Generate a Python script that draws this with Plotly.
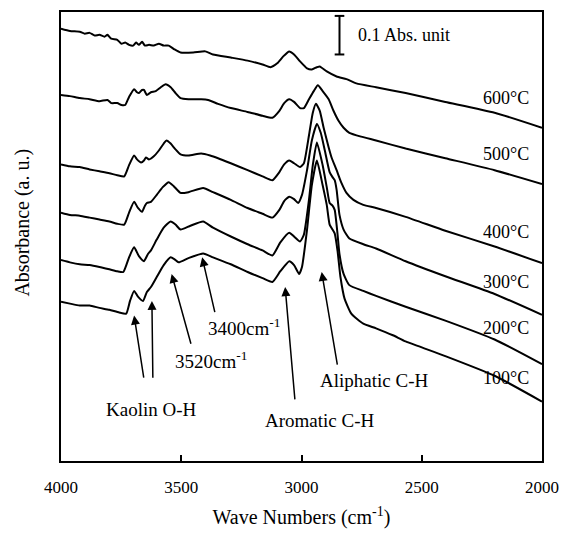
import plotly.graph_objects as go

# ---------------- data (wavenumber cm-1, absorbance with offsets) ----------------
wn_600 = [4000, 3963, 3922, 3901, 3881, 3860, 3840, 3819, 3807, 3791, 3766, 3749, 3733, 3717, 3700, 3688, 3676, 3663, 3651, 3634, 3614, 3593, 3573, 3552, 3528, 3503, 3450, 3400, 3368, 3294, 3224, 3162, 3129, 3101, 3076, 3051, 3031, 3006, 2977, 2957, 2936, 2924, 2895, 2854, 2813, 2772, 2690, 2567, 2402, 2197, 2000]
ab_600 = [1.121, 1.115, 1.113, 1.108, 1.110, 1.103, 1.105, 1.100, 1.105, 1.095, 1.092, 1.082, 1.085, 1.079, 1.077, 1.085, 1.079, 1.087, 1.077, 1.079, 1.077, 1.082, 1.077, 1.077, 1.067, 1.059, 1.059, 1.062, 1.054, 1.046, 1.038, 1.028, 1.021, 1.031, 1.049, 1.062, 1.054, 1.036, 1.018, 1.015, 1.021, 1.023, 1.010, 0.997, 0.990, 0.979, 0.969, 0.954, 0.931, 0.903, 0.864]

wn_500 = [4000, 3963, 3922, 3881, 3840, 3807, 3791, 3766, 3749, 3733, 3717, 3696, 3684, 3676, 3663, 3655, 3643, 3626, 3606, 3585, 3565, 3544, 3524, 3503, 3470, 3417, 3388, 3347, 3294, 3224, 3162, 3121, 3092, 3072, 3051, 3031, 3006, 2990, 2969, 2949, 2932, 2912, 2887, 2867, 2846, 2825, 2801, 2752, 2690, 2567, 2402, 2197, 2000]
ab_500 = [0.949, 0.946, 0.941, 0.938, 0.933, 0.936, 0.928, 0.928, 0.923, 0.923, 0.944, 0.964, 0.956, 0.954, 0.962, 0.962, 0.949, 0.956, 0.959, 0.969, 0.977, 0.969, 0.954, 0.941, 0.938, 0.938, 0.936, 0.926, 0.915, 0.905, 0.895, 0.890, 0.908, 0.928, 0.938, 0.931, 0.915, 0.915, 0.938, 0.959, 0.974, 0.959, 0.938, 0.908, 0.882, 0.864, 0.851, 0.841, 0.831, 0.810, 0.785, 0.754, 0.718]

wn_400 = [4000, 3963, 3922, 3881, 3840, 3799, 3766, 3737, 3717, 3696, 3684, 3667, 3655, 3647, 3634, 3614, 3593, 3573, 3561, 3544, 3524, 3503, 3470, 3417, 3380, 3347, 3294, 3224, 3162, 3121, 3092, 3072, 3051, 3031, 3006, 2990, 2969, 2953, 2940, 2924, 2908, 2887, 2875, 2854, 2834, 2813, 2784, 2743, 2690, 2567, 2402, 2197, 2000]
ab_400 = [0.769, 0.764, 0.762, 0.756, 0.751, 0.746, 0.741, 0.738, 0.767, 0.792, 0.782, 0.774, 0.779, 0.787, 0.782, 0.790, 0.805, 0.823, 0.831, 0.823, 0.808, 0.795, 0.792, 0.797, 0.792, 0.785, 0.772, 0.754, 0.738, 0.728, 0.749, 0.769, 0.779, 0.772, 0.762, 0.772, 0.844, 0.903, 0.926, 0.908, 0.864, 0.813, 0.787, 0.754, 0.721, 0.695, 0.677, 0.664, 0.656, 0.633, 0.597, 0.556, 0.513]

wn_300 = [4000, 3963, 3922, 3881, 3840, 3799, 3766, 3737, 3717, 3696, 3680, 3663, 3651, 3643, 3626, 3602, 3577, 3552, 3532, 3503, 3470, 3409, 3368, 3294, 3224, 3162, 3121, 3092, 3072, 3051, 3031, 3014, 2998, 2977, 2957, 2936, 2920, 2903, 2883, 2871, 2862, 2854, 2842, 2825, 2801, 2743, 2690, 2567, 2402, 2197, 2000]
ab_300 = [0.644, 0.638, 0.636, 0.631, 0.626, 0.621, 0.615, 0.613, 0.644, 0.672, 0.656, 0.646, 0.662, 0.669, 0.672, 0.690, 0.710, 0.723, 0.713, 0.695, 0.697, 0.708, 0.697, 0.677, 0.656, 0.641, 0.631, 0.651, 0.674, 0.685, 0.679, 0.669, 0.690, 0.754, 0.831, 0.874, 0.851, 0.805, 0.749, 0.736, 0.728, 0.703, 0.638, 0.600, 0.577, 0.562, 0.551, 0.518, 0.479, 0.433, 0.379]

wn_200 = [4000, 3963, 3922, 3881, 3840, 3799, 3766, 3741, 3717, 3696, 3676, 3655, 3639, 3626, 3602, 3573, 3544, 3524, 3503, 3462, 3409, 3368, 3294, 3224, 3162, 3121, 3088, 3051, 3031, 3006, 2990, 2969, 2953, 2936, 2912, 2895, 2883, 2871, 2862, 2850, 2842, 2825, 2801, 2743, 2690, 2567, 2402, 2197, 2000]
ab_200 = [0.521, 0.515, 0.510, 0.508, 0.503, 0.497, 0.492, 0.490, 0.528, 0.554, 0.531, 0.518, 0.536, 0.546, 0.574, 0.605, 0.621, 0.613, 0.600, 0.610, 0.621, 0.605, 0.582, 0.562, 0.546, 0.533, 0.567, 0.592, 0.582, 0.569, 0.587, 0.677, 0.767, 0.826, 0.767, 0.710, 0.669, 0.662, 0.651, 0.587, 0.536, 0.485, 0.456, 0.441, 0.428, 0.400, 0.364, 0.315, 0.251]

wn_100 = [4000, 3963, 3922, 3881, 3840, 3799, 3758, 3729, 3713, 3696, 3680, 3659, 3643, 3626, 3602, 3573, 3544, 3528, 3511, 3470, 3409, 3368, 3294, 3224, 3162, 3121, 3088, 3051, 3031, 3010, 2998, 2977, 2957, 2936, 2912, 2895, 2883, 2871, 2862, 2850, 2838, 2821, 2793, 2743, 2690, 2620, 2567, 2402, 2197, 2000]
ab_100 = [0.413, 0.408, 0.403, 0.403, 0.397, 0.392, 0.385, 0.382, 0.415, 0.441, 0.426, 0.415, 0.438, 0.451, 0.477, 0.508, 0.528, 0.523, 0.515, 0.526, 0.538, 0.528, 0.510, 0.490, 0.474, 0.464, 0.492, 0.518, 0.508, 0.485, 0.503, 0.600, 0.715, 0.779, 0.715, 0.664, 0.613, 0.600, 0.590, 0.544, 0.477, 0.421, 0.382, 0.356, 0.344, 0.326, 0.310, 0.272, 0.221, 0.154]

series = [
    ("600°C", wn_600, ab_600, 0.941),
    ("500°C", wn_500, ab_500, 0.795),
    ("400°C", wn_400, ab_400, 0.595),
    ("300°C", wn_300, ab_300, 0.464),
    ("200°C", wn_200, ab_200, 0.344),
    ("100°C", wn_100, ab_100, 0.215),
]

x_ticks = [4000, 3500, 3000, 2500, 2000]
scale_bar = 0.1          # Abs. unit
scale_bar_pos = (2842, 1.054)
label_wn = 2045

# band annotations: (text, text_wn, text_ab, [(head_wn, head_ab, tail_wn, tail_ab), ...])
bands = [
    ("Kaolin O-H", 3622, 0.133, [(3696, 0.377, 3655, 0.212), (3622, 0.415, 3618, 0.212)]),
    ("3520cm<sup>-1</sup>", 3376, 0.262, [(3540, 0.485, 3458, 0.300)]),
    ("3400cm<sup>-1</sup>", 3240, 0.347, [(3413, 0.528, 3359, 0.382)]),
    ("Aromatic C-H", 2924, 0.105, [(3068, 0.451, 3027, 0.156)]),
    ("Aliphatic C-H", 2698, 0.208, [(2916, 0.490, 2850, 0.246)]),
]

FONT = "Liberation Serif"

fig = go.Figure()
for name, wn, ab, lab_y in series:
    fig.add_trace(go.Scatter(x=wn, y=ab, mode="lines", name=name,
                             line=dict(color="black", width=2, shape="spline", smoothing=0.5),
                             showlegend=False, hoverinfo="skip"))
    fig.add_annotation(x=label_wn, y=lab_y, text=name, showarrow=False,
                       xanchor="right", yanchor="middle",
                       font=dict(family=FONT, size=18, color="black"))

for text, tx, ty, arrows in bands:
    fig.add_annotation(x=tx, y=ty, text=text, showarrow=False,
                       xanchor="center", yanchor="middle",
                       font=dict(family=FONT, size=19, color="black"))
    for hx, hy, sx, sy in arrows:
        fig.add_annotation(x=hx, y=hy, ax=sx, ay=sy, axref="x", ayref="y",
                           xref="x", yref="y", text="", showarrow=True,
                           arrowhead=2, arrowsize=1.2, arrowwidth=1.5,
                           arrowcolor="black", standoff=0, startstandoff=0)

# scale bar
bx, by = scale_bar_pos
fig.add_shape(type="line", x0=bx, x1=bx, y0=by, y1=by + scale_bar,
              line=dict(color="black", width=2))
for yy in (by, by + scale_bar):
    fig.add_shape(type="line", x0=bx + 20, x1=bx - 20, y0=yy, y1=yy,
                  line=dict(color="black", width=2))
fig.add_annotation(x=bx - 70, y=by + scale_bar / 2, text="0.1 Abs. unit",
                   showarrow=False, xanchor="left", yanchor="middle",
                   font=dict(family=FONT, size=18, color="black"))

# y title
fig.add_annotation(xref="paper", yref="paper", x=-0.082, y=0.53,
                   text="Absorbance (a. u.)", textangle=-90, showarrow=False,
                   xanchor="center", yanchor="middle",
                   font=dict(family=FONT, size=20, color="black"))

fig.update_layout(
    width=569, height=535,
    margin=dict(l=61, r=21, t=10, b=71),
    paper_bgcolor="white", plot_bgcolor="white",
    font=dict(family=FONT, color="black"),
    xaxis=dict(range=[4000, 2000], tickvals=x_ticks,
               ticks="inside", ticklen=6, tickwidth=1.5, tickcolor="black",
               showline=True, linecolor="black", linewidth=2, mirror=True,
               showgrid=False, zeroline=False,
               tickfont=dict(family=FONT, size=17, color="black"),
               ticklabelstandoff=10,
               title=dict(text="Wave Numbers (cm<sup>-1</sup>)",
                          font=dict(family=FONT, size=20, color="black"),
                          standoff=14)),
    yaxis=dict(range=[0, 1.1641], showticklabels=False, ticks="",
               showline=True, linecolor="black", linewidth=2, mirror=True,
               showgrid=False, zeroline=False),
)

fig.write_html("out.html")
